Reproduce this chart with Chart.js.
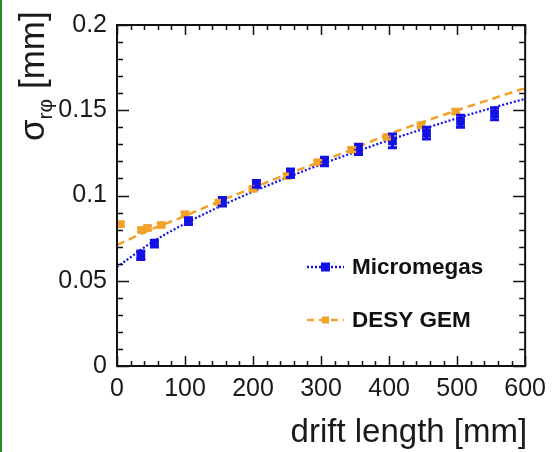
<!DOCTYPE html>
<html><head><meta charset="utf-8">
<script src="https://cdn.jsdelivr.net/npm/chart.js@4.4.0/dist/chart.umd.min.js"></script>
<style>
html,body{margin:0;padding:0;background:#fff;}
#wrap{position:relative;width:554px;height:452px;overflow:hidden;}
#edge{position:absolute;left:0;top:0;width:2px;height:452px;background:#1f8f1f;}
canvas{position:absolute;left:0;top:0;}
</style>
</head><body>
<div id="wrap"><canvas id="c" width="554" height="452"></canvas><div id="edge"></div></div>
<script>
// ---- data ----
const micromegasX   = [35, 55, 105, 155, 205, 255, 305, 355, 405, 455, 505, 555];
const micromegasY   = [0.065, 0.0718, 0.085, 0.0964, 0.1068, 0.113, 0.120, 0.127, 0.132, 0.1366, 0.1435, 0.148];
const micromegasErr = [0.0025, 0.002, 0.002, 0.0025, 0.002, 0.0025, 0.0025, 0.003, 0.004, 0.0035, 0.0035, 0.0035];
const desyGemX   = [5, 36, 45, 65, 100, 150, 200, 250, 295, 345, 397, 447, 498];
const desyGemY   = [0.0832, 0.0798, 0.081, 0.0827, 0.089, 0.0959, 0.1039, 0.1114, 0.1195, 0.1269, 0.1343, 0.1412, 0.1492];
const desyGemErr = [0.0012, 0.0012, 0.0012, 0.0012, 0.0012, 0.0012, 0.0012, 0.0012, 0.0012, 0.0012, 0.0012, 0.0012, 0.0012];
const fitX          = [0, 50, 100, 150, 200, 250, 300, 350, 400, 450, 500, 550, 600];
const micromegasFit = [0.058, 0.0722, 0.0835, 0.0933, 0.1023, 0.1105, 0.1183, 0.1255, 0.1325, 0.139, 0.1453, 0.1512, 0.1567];
const desyGemFit    = [0.0710, 0.0800, 0.0880, 0.0965, 0.1045, 0.1125, 0.1200, 0.1278, 0.1360, 0.1432, 0.1500, 0.1565, 0.1630];
const xTicks = [0, 100, 200, 300, 400, 500, 600];
const yTicks = [0, 0.05, 0.1, 0.15, 0.2];
const seriesNames = ['Micromegas', 'DESY GEM'];
const xTitle = 'drift length [mm]';

const FONT = '"Liberation Sans", Arial, Helvetica, sans-serif';
const BLUE = '#1212e6', ORANGE = '#f2a22a';
const pts = (xs, ys) => xs.map((x, i) => ({x, y: ys[i]}));

const frameTicks = {
  id: 'frameTicks',
  afterDatasetsDraw(chart) {
    const {ctx, scales: {x, y}} = chart;
    chart.data.datasets.forEach(ds => {
      if (!ds.errors) return;
      ctx.save();
      ctx.strokeStyle = ds.borderColor; ctx.lineWidth = 3;
      ds.data.forEach((p, i) => {
        const px = x.getPixelForValue(p.x);
        const y1 = y.getPixelForValue(p.y - ds.errors[i]);
        const y2 = y.getPixelForValue(p.y + ds.errors[i]);
        ctx.beginPath();
        ctx.moveTo(px, y1); ctx.lineTo(px, y2);
        ctx.moveTo(px - 4.5, y1); ctx.lineTo(px + 4.5, y1);
        ctx.moveTo(px - 4.5, y2); ctx.lineTo(px + 4.5, y2);
        ctx.stroke();
      });
      ctx.restore();
    });
  },
  afterDraw(chart) {
    const {ctx, chartArea: a, scales: {x, y}} = chart;
    ctx.save();
    ctx.strokeStyle = '#111'; ctx.lineWidth = 2;
    ctx.strokeRect(a.left, a.top, a.right - a.left, a.bottom - a.top);
    ctx.lineWidth = 1.5;
    ctx.beginPath();
    for (let i = 0; i <= 20; i++) {
      const py = Math.round(y.getPixelForValue(i / 100)) + 0.5;
      const len = i % 5 === 0 ? 12 : 6;
      ctx.moveTo(a.left, py); ctx.lineTo(a.left + len, py);
      ctx.moveTo(a.right, py); ctx.lineTo(a.right - len, py);
    }
    for (let i = 0; i <= 30; i++) {
      const px = Math.round(x.getPixelForValue(i * 20)) + 0.5;
      const len = i % 5 === 0 ? 10 : 5;
      ctx.moveTo(px, a.bottom); ctx.lineTo(px, a.bottom - len);
      ctx.moveTo(px, a.top); ctx.lineTo(px, a.top + len);
    }
    ctx.stroke();

    // x title
    ctx.fillStyle = '#1a1a1a';
    ctx.font = '33px ' + FONT;
    ctx.textAlign = 'right'; ctx.textBaseline = 'alphabetic';
    ctx.fillText(xTitle, a.right + 2, 442);

    // y title with subscript
    ctx.save();
    ctx.translate(44, 141);
    ctx.rotate(-Math.PI / 2);
    ctx.textAlign = 'left';
    ctx.font = '35px ' + FONT;
    ctx.fillText('σ', 0, 0);
    let w = ctx.measureText('σ').width;
    ctx.font = '21px ' + FONT;
    ctx.fillText('rφ', w, 8);
    w += ctx.measureText('rφ').width;
    ctx.font = '35px ' + FONT;
    ctx.fillText(' [mm]', w, 0);
    ctx.restore();

    // legend
    const leg = [
      {name: seriesNames[0], color: BLUE, dash: [2, 2], y: 267, size: 9},
      {name: seriesNames[1], color: ORANGE, dash: [7, 5], y: 320, size: 7}
    ];
    leg.forEach(l => {
      ctx.save();
      ctx.strokeStyle = l.color; ctx.lineWidth = 2.5; ctx.setLineDash(l.dash);
      ctx.beginPath(); ctx.moveTo(307, l.y); ctx.lineTo(344, l.y); ctx.stroke();
      ctx.setLineDash([]);
      ctx.fillStyle = l.color;
      ctx.fillRect(325.5 - l.size / 2, l.y - l.size / 2, l.size, l.size);
      ctx.fillStyle = '#111';
      ctx.font = 'bold 22.5px ' + FONT;
      ctx.textAlign = 'left'; ctx.textBaseline = 'middle';
      ctx.fillText(l.name, 352, l.y + 1);
      ctx.restore();
    });
    ctx.restore();
  }
};

new Chart(document.getElementById('c'), {
  type: 'line',
  data: {
    datasets: [
      {label: seriesNames[0] + ' fit', data: pts(fitX, micromegasFit), borderColor: BLUE, borderWidth: 2.2,
       borderDash: [2, 2], pointRadius: 0, cubicInterpolationMode: 'monotone', fill: false, order: 3},
      {label: seriesNames[1] + ' fit', data: pts(fitX, desyGemFit), borderColor: ORANGE, borderWidth: 2.5,
       borderDash: [8, 5], pointRadius: 0, cubicInterpolationMode: 'monotone', fill: false, order: 4},
      {label: seriesNames[1], data: pts(desyGemX, desyGemY), errors: desyGemErr, showLine: false,
       pointStyle: 'rect', pointRadius: 5.3, backgroundColor: ORANGE, borderColor: ORANGE, borderWidth: 0, order: 2},
      {label: seriesNames[0], data: pts(micromegasX, micromegasY), errors: micromegasErr, showLine: false,
       pointStyle: 'rect', pointRadius: 6.2, backgroundColor: BLUE, borderColor: BLUE, borderWidth: 0, order: 1}
    ]
  },
  options: {
    responsive: false, animation: false,
    layout: {padding: {left: 0, top: 17, right: 25, bottom: 0}},
    plugins: {legend: {display: false}, tooltip: {enabled: false}},
    scales: {
      x: {
        type: 'linear', min: 0, max: 600,
        afterBuildTicks: s => { s.ticks = xTicks.map(v => ({value: v})); },
        afterFit: s => { s.height = 86; },
        grid: {display: false, drawTicks: false}, border: {display: false},
        ticks: {padding: 8, color: '#1a1a1a', font: {family: FONT, size: 25}, maxRotation: 0,
                callback: v => String(v)}
      },
      y: {
        type: 'linear', min: 0, max: 0.2,
        afterBuildTicks: s => { s.ticks = yTicks.map(v => ({value: v})); },
        afterFit: s => { s.width = 117; },
        grid: {display: false, drawTicks: false}, border: {display: false},
        ticks: {padding: 10, color: '#1a1a1a', font: {family: FONT, size: 25},
                callback: v => String(v)}
      }
    }
  },
  plugins: [frameTicks]
});
</script>
</body></html>
